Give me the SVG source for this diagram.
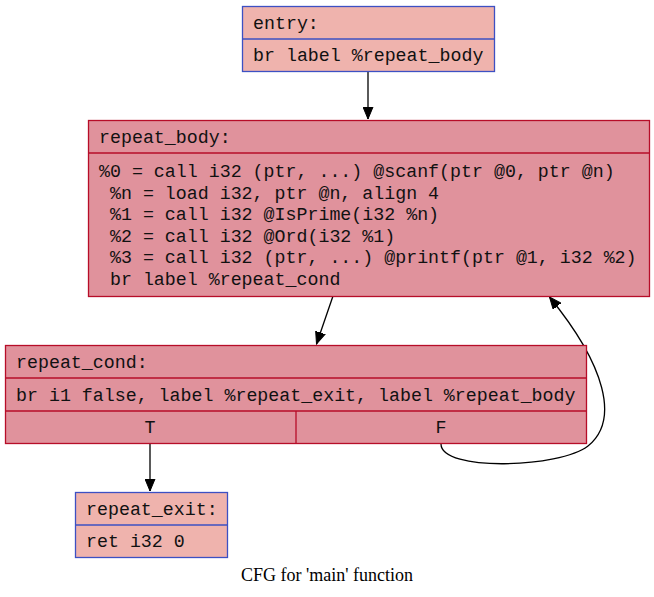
<svg xmlns="http://www.w3.org/2000/svg" width="654" height="597" viewBox="0 0 654 597">
<style>
.cold{fill:#efb3ad;stroke:#3d50c3;stroke-width:1.3}
.hot{fill:#e0929c;stroke:#b70d28;stroke-width:1.3}
.cl{stroke:#3d50c3;stroke-width:1.3;fill:none}
.hl{stroke:#b70d28;stroke-width:1.3;fill:none}
.t{font-family:"Liberation Mono","Courier New",monospace;font-size:18.3px;fill:#111}
.cap{font-family:"Liberation Serif","Times New Roman",serif;font-size:18px;fill:#000}
.e{stroke:#000;stroke-width:1.3;fill:none}
</style>
<defs>
<marker id="ah" markerUnits="userSpaceOnUse" markerWidth="13" markerHeight="11" refX="12" refY="5.5" orient="auto">
<path d="M0,0.5 L12,5.5 L0,10.5 z" fill="#000" stroke="#000"/>
</marker>
</defs>
<g id="edges">
<path class="e" d="M368,71 L368,119" marker-end="url(#ah)"/>
<path class="e" d="M333,296 L316.5,344" marker-end="url(#ah)"/>
<path class="e" d="M150,443 L150,491" marker-end="url(#ah)"/>
<path class="e" d="M441,444 C441,472 560,468 588,446 C620,420 605,365 549.5,297" marker-end="url(#ah)"/>
</g>
<g id="entry">
<rect class="cold" x="242.5" y="6.5" width="252" height="65"/>
<line class="cl" x1="242.5" y1="39" x2="494.5" y2="39"/>
<text class="t" x="253" y="29">entry:</text>
<text class="t" x="253" y="61">br label %repeat_body</text>
</g>
<g id="repeat_body">
<rect class="hot" x="88.5" y="120.5" width="561" height="176"/>
<line class="hl" x1="88.5" y1="153" x2="649.5" y2="153"/>
<text class="t" x="99" y="143">repeat_body:</text>
<text class="t" x="99" y="177" xml:space="preserve">%0 = call i32 (ptr, ...) @scanf(ptr @0, ptr @n)</text>
<text class="t" x="99" y="198.5" xml:space="preserve"> %n = load i32, ptr @n, align 4</text>
<text class="t" x="99" y="220" xml:space="preserve"> %1 = call i32 @IsPrime(i32 %n)</text>
<text class="t" x="99" y="241.5" xml:space="preserve"> %2 = call i32 @Ord(i32 %1)</text>
<text class="t" x="99" y="263" xml:space="preserve"> %3 = call i32 (ptr, ...) @printf(ptr @1, i32 %2)</text>
<text class="t" x="99" y="284.5" xml:space="preserve"> br label %repeat_cond</text>
</g>
<g id="repeat_cond">
<rect class="hot" x="5.5" y="345.5" width="581" height="98"/>
<line class="hl" x1="5.5" y1="378" x2="586.5" y2="378"/>
<line class="hl" x1="5.5" y1="411" x2="586.5" y2="411"/>
<line class="hl" x1="296" y1="411" x2="296" y2="443.5"/>
<text class="t" x="16" y="368">repeat_cond:</text>
<text class="t" x="16" y="401">br i1 false, label %repeat_exit, label %repeat_body</text>
<text class="t" x="150" y="433" text-anchor="middle">T</text>
<text class="t" x="441" y="433" text-anchor="middle">F</text>
</g>
<g id="repeat_exit">
<rect class="cold" x="75.5" y="492.5" width="152" height="65"/>
<line class="cl" x1="75.5" y1="525" x2="227.5" y2="525"/>
<text class="t" x="86" y="515">repeat_exit:</text>
<text class="t" x="86" y="547">ret i32 0</text>
</g>
<text class="cap" x="327" y="581" text-anchor="middle">CFG for 'main' function</text>
</svg>
